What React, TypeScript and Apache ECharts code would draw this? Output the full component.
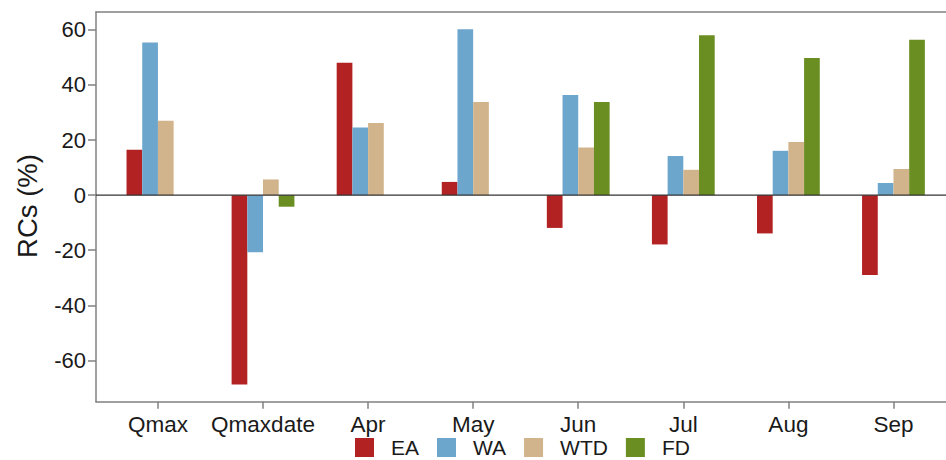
import React, { useEffect, useRef } from "react";
import * as echarts from "echarts";

const categories = ["Qmax", "Qmaxdate", "Apr", "May", "Jun", "Jul", "Aug", "Sep"];
const seriesNames = ["EA", "WA", "WTD", "FD"];
const eaValues = [16.5, -68.8, 48.1, 4.8, -11.9, -17.9, -13.9, -29.0];
const waValues = [55.4, -20.7, 24.6, 60.2, 36.4, 14.2, 16.1, 4.4];
const wtdValues = [27.0, 5.7, 26.2, 33.8, 17.3, 9.2, 19.3, 9.5];
const fdValues: (number | string)[] = ["-", -4.2, "-", "-", 33.8, 58.1, 49.8, 56.4];
const yTicks = [-60, -40, -20, 0, 20, 40, 60];
const colors = ["#B22222", "#6CA6CD", "#D2B48C", "#6B8E23"];

const Y_MIN = -75;
const Y_MAX = 66.5;
const FONT = "'Liberation Sans', Arial, Helvetica, sans-serif";

export default function App() {
  const ref = useRef<HTMLDivElement>(null);
  useEffect(() => {
    if (!ref.current) return;
    const chart = echarts.init(ref.current, null, { renderer: "svg" });
    const values = [eaValues, waValues, wtdValues, fdValues];
    const option: any = {
      animation: false,
      backgroundColor: "#ffffff",
      textStyle: { fontFamily: FONT },
      grid: [
        { left: 96, right: 0, top: 12, bottom: 58.3 },
        { left: 105.4, right: 0, top: 12, bottom: 58.3 },
      ],
      xAxis: [
        {
          gridIndex: 0,
          type: "value",
          min: 0,
          max: 1,
          position: "bottom",
          axisLine: { show: true, onZero: false, lineStyle: { color: "#808080", width: 1.5 } },
          axisTick: { show: false },
          axisLabel: { show: false },
          splitLine: { show: false },
        },
        {
          gridIndex: 0,
          type: "value",
          min: 0,
          max: 1,
          position: "top",
          axisLine: { show: true, onZero: false, lineStyle: { color: "#808080", width: 1.5 } },
          axisTick: { show: false },
          axisLabel: { show: false },
          splitLine: { show: false },
        },
        {
          gridIndex: 1,
          type: "category",
          data: categories,
          position: "bottom",
          axisLine: { show: false, onZero: false },
          axisTick: {
            show: true,
            alignWithLabel: true,
            length: 7,
            lineStyle: { color: "#808080", width: 1.5 },
          },
          axisLabel: {
            color: "#1a1a1a",
            fontSize: 22.5,
            fontFamily: FONT,
            margin: 11,
            interval: 0,
          },
          splitLine: { show: false },
        },
      ],
      yAxis: [
        {
          gridIndex: 0,
          type: "value",
          min: Y_MIN,
          max: Y_MAX,
          axisLine: { show: true, onZero: false, lineStyle: { color: "#808080", width: 1.5 } },
          axisTick: {
            show: true,
            length: 8,
            customValues: yTicks,
            lineStyle: { color: "#808080", width: 1.5 },
          },
          axisLabel: {
            color: "#1a1a1a",
            fontSize: 22,
            fontFamily: FONT,
            margin: 10,
            customValues: yTicks,
          },
          splitLine: { show: false },
        },
        {
          gridIndex: 1,
          type: "value",
          min: Y_MIN,
          max: Y_MAX,
          show: false,
          splitLine: { show: false },
        },
      ],
      legend: {
        data: seriesNames,
        left: 355,
        top: 437,
        padding: 0,
        itemWidth: 19,
        itemHeight: 19,
        itemGap: 18,
        icon: "rect",
        textStyle: {
          fontSize: 21,
          color: "#1a1a1a",
          fontFamily: FONT,
          padding: [0, 0, 0, 12],
        },
      },
      graphic: [
        {
          type: "text",
          x: 27,
          y: 206,
          rotation: Math.PI / 2,
          style: {
            text: "RCs (%)",
            fontSize: 27.5,
            fontFamily: FONT,
            fill: "#1a1a1a",
            align: "center",
            verticalAlign: "middle",
          },
        },
      ],
      series: [
        {
          type: "line",
          xAxisIndex: 0,
          yAxisIndex: 0,
          data: [
            [0, 0],
            [1, 0],
          ],
          symbol: "none",
          silent: true,
          lineStyle: { color: "#333333", width: 1.2 },
          z: 5,
        },
        ...seriesNames.map((name, i) => ({
          name,
          type: "bar",
          xAxisIndex: 2,
          yAxisIndex: 1,
          data: values[i],
          barWidth: 15.7,
          barGap: "0%",
          itemStyle: { color: colors[i] },
          z: 2,
        })),
      ],
    };
    chart.setOption(option);
    return () => chart.dispose();
  }, []);
  return (
    <div
      ref={ref}
      style={{ position: "fixed", left: 0, top: 0, width: 946, height: 460 }}
    />
  );
}
